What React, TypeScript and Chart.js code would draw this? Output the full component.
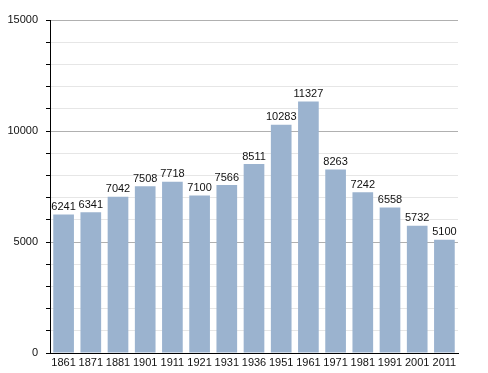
import React, { useEffect, useRef } from "react";
import { Chart, registerables } from "chart.js";

Chart.register(...registerables);

const years = ["1861", "1871", "1881", "1901", "1911", "1921", "1931", "1936", "1951", "1961", "1971", "1981", "1991", "2001", "2011"];
const population = [6241, 6341, 7042, 7508, 7718, 7100, 7566, 8511, 10283, 11327, 8263, 7242, 6558, 5732, 5100];
const majorTicks = [0, 5000, 10000, 15000];

const valueLabels = {
  id: "valueLabels",
  afterDatasetsDraw(chart: any) {
    const ctx = chart.ctx;
    const meta = chart.getDatasetMeta(0);
    ctx.save();
    ctx.font = "11px 'Liberation Sans', Arial, sans-serif";
    ctx.fillStyle = "#111";
    ctx.textAlign = "center";
    ctx.textBaseline = "bottom";
    meta.data.forEach((bar: any, i: number) => {
      ctx.fillText(String(chart.data.datasets[0].data[i]), bar.x, bar.y - 2);
    });
    ctx.restore();
  },
};

export default function App() {
  const ref = useRef<HTMLCanvasElement>(null);
  useEffect(() => {
    if (!ref.current) return;
    const chart = new Chart(ref.current, {
      type: "bar",
      data: {
        labels: years,
        datasets: [
          {
            data: population,
            backgroundColor: "#9bb3cf",
            borderWidth: 0,
            barPercentage: 0.76,
            categoryPercentage: 1,
          },
        ],
      },
      options: {
        animation: false,
        responsive: false,
        maintainAspectRatio: false,
        layout: { padding: { top: 20, right: 30, left: 0, bottom: 0 } },
        plugins: { legend: { display: false }, tooltip: { enabled: false } },
        scales: {
          x: {
            grid: { display: false, drawTicks: false },
            border: { color: "#000", width: 1 },
            ticks: {
              color: "#111",
              font: { family: "'Liberation Sans', Arial, sans-serif", size: 11 },
              padding: 3,
              maxRotation: 0,
              autoSkip: false,
            },
            afterFit(scale: any) {
              scale.height = 20;
            },
          },
          y: {
            min: 0,
            max: 15000,
            grid: {
              color: (c: any) => (c.tick && majorTicks.includes(c.tick.value) ? "#b0b0b0" : "#e6e6e6"),
              tickColor: "#000",
              tickLength: 4,
              lineWidth: 1,
            },
            border: { color: "#000", width: 1 },
            ticks: {
              stepSize: 1000,
              color: "#111",
              font: { family: "'Liberation Sans', Arial, sans-serif", size: 11 },
              padding: 8,
              autoSkip: false,
              callback: (v: any) => (majorTicks.includes(Number(v)) ? String(v) : ""),
            },
            afterFit(scale: any) {
              scale.width = 50;
            },
          },
        },
      },
      plugins: [valueLabels],
    });
    return () => chart.destroy();
  }, []);
  return (
    <div style={{ position: "absolute", left: 0, top: 0, width: 488, height: 373, background: "#fff" }}>
      <canvas ref={ref} width={488} height={373} style={{ width: 488, height: 373 }} />
    </div>
  );
}
